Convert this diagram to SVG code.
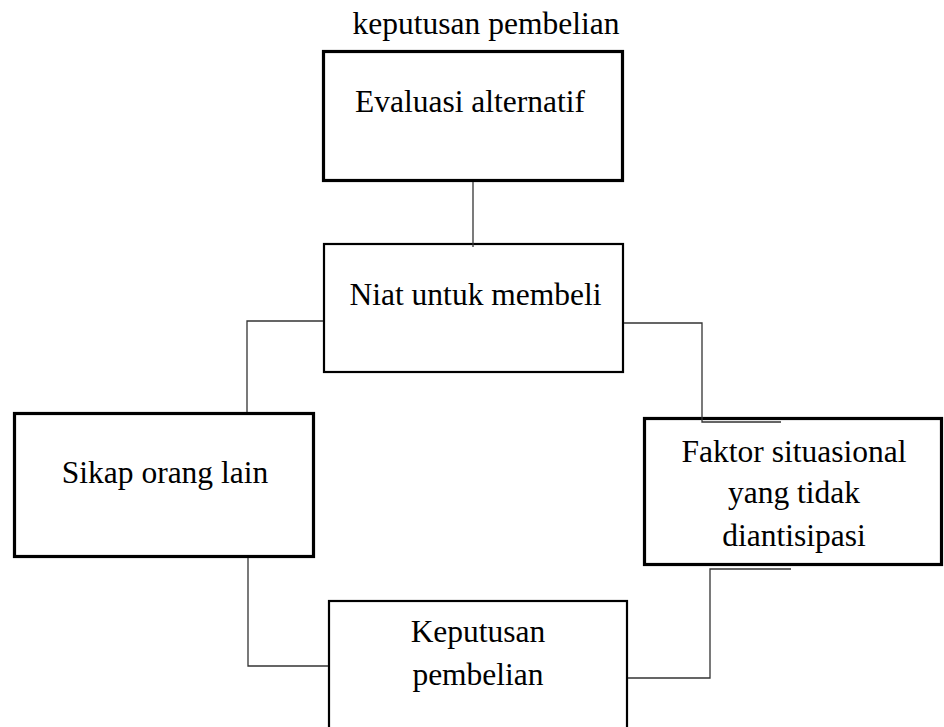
<svg xmlns="http://www.w3.org/2000/svg" width="944" height="727" viewBox="0 0 944 727">
<style>
  .lbl { font-family: "Liberation Serif", "Times New Roman", serif; font-size: 31.5px; fill: #000; text-anchor: middle; }
  .box { fill: #fff; stroke: #000; }
  .thick { stroke-width: 3.2; }
  .thin { stroke-width: 2.2; }
  .conn { fill: none; stroke: #333; stroke-width: 1.3; }
</style>
<rect x="0" y="0" width="944" height="727" fill="#fff"/>
<text class="lbl" x="486" y="34">keputusan pembelian</text>
<g id="evaluasi">
  <rect class="box thick" x="323.5" y="51.5" width="299" height="129"/>
  <text class="lbl" x="470" y="112">Evaluasi alternatif</text>
</g>
<g id="niat">
  <rect class="box thin" x="324" y="244" width="299" height="128"/>
  <text class="lbl" x="475.5" y="305">Niat untuk membeli</text>
</g>
<g id="sikap">
  <rect class="box thick" x="14.5" y="413.5" width="299" height="143"/>
  <text class="lbl" x="165" y="483">Sikap orang lain</text>
</g>
<g id="faktor">
  <rect class="box thick" x="644.5" y="418.5" width="297" height="146"/>
  <text class="lbl" x="794" y="462">Faktor situasional</text>
  <text class="lbl" x="794" y="503">yang tidak</text>
  <text class="lbl" x="794" y="546">diantisipasi</text>
</g>
<g id="keputusan">
  <rect class="box thin" x="329" y="601" width="298" height="140"/>
  <text class="lbl" x="478" y="642">Keputusan</text>
  <text class="lbl" x="478" y="685">pembelian</text>
</g>
<g id="connectors">
  <path class="conn" d="M473,182 V247"/>
  <path class="conn" d="M323,321 H247 V412"/>
  <path class="conn" d="M248,558 V666 H328"/>
  <path class="conn" d="M624,323 H702 V422 H781"/>
  <path class="conn" d="M791,569 H710 V678 H628"/>
</g>
</svg>
